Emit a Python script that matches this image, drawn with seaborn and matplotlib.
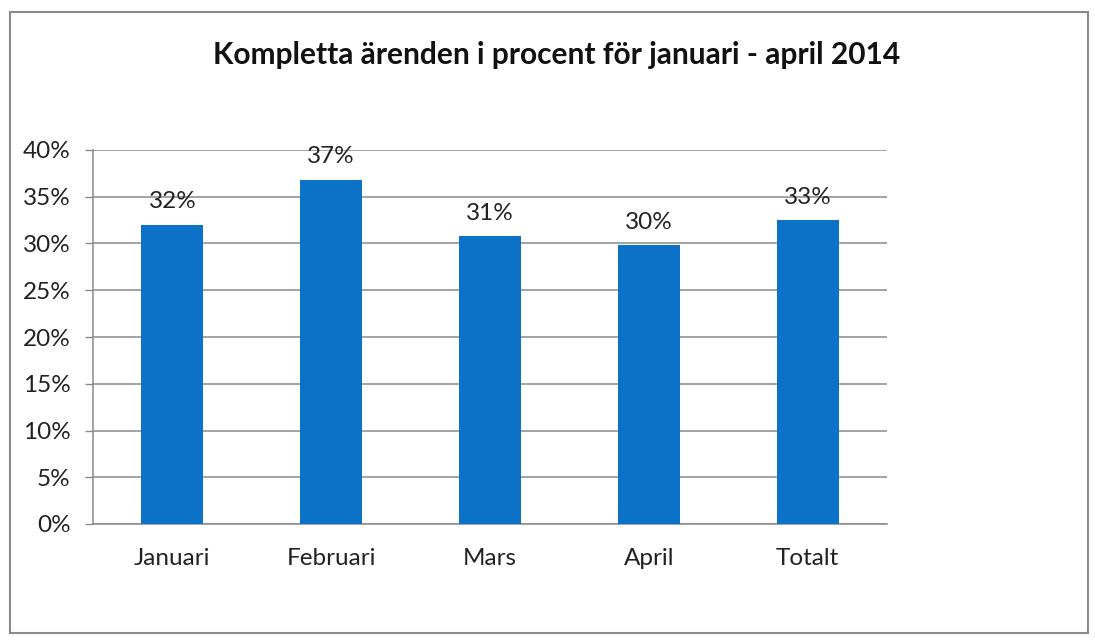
import pandas as pd
import seaborn as sns
import matplotlib.pyplot as plt
from matplotlib.patches import Rectangle
from matplotlib.ticker import PercentFormatter

# Values
categories = ["Januari", "Februari", "Mars", "April", "Totalt"]
values = [0.320, 0.368, 0.308, 0.298, 0.325]
labels = ["32%", "37%", "31%", "30%", "33%"]

df = pd.DataFrame({"manad": categories, "andel": values})

sns.set_theme(style="white")
plt.rcParams['font.family'] = ['Lato', 'DejaVu Sans']

fig = plt.figure(figsize=(10.95, 6.4), dpi=100)
ax = fig.add_axes([93 / 1095, 1 - 524 / 640, (887 - 93) / 1095, (524 - 150) / 640])

sns.barplot(data=df, x="manad", y="andel", color="#0B72C8", width=0.39,
            saturation=1, linewidth=0, ax=ax, zorder=3)

ax.set_ylim(0, 0.40)
ax.set_xlim(-0.5, len(categories) - 0.5)
ax.set_yticks([i * 0.05 for i in range(9)])
ax.yaxis.set_major_formatter(PercentFormatter(1.0, decimals=0))
ax.grid(axis="y", color="#8a8a8a", linewidth=1.1, zorder=0)
ax.set_axisbelow(True)

# Excel style: category ticks between the bars
ax.set_xticks([i - 0.5 for i in range(len(categories) + 1)], minor=True)
ax.tick_params(axis="x", which="major", length=0, pad=17, labelsize=17.5, colors="#222222")
ax.tick_params(axis="x", which="minor", length=6, width=1, color="#8a8a8a", direction="out")
ax.tick_params(axis="y", length=6, width=1, color="#8a8a8a", direction="out", pad=10,
               labelsize=17.5, colors="#222222", left=True)

for s in ["top", "right"]:
    ax.spines[s].set_visible(False)
for s in ["left", "bottom"]:
    ax.spines[s].set_color("#8a8a8a")
    ax.spines[s].set_linewidth(1.1)

ax.set_xlabel("")
ax.set_ylabel("")

for i, (v, lab) in enumerate(zip(values, labels)):
    ax.annotate(lab, (i, v), xytext=(0, 9), textcoords="offset points",
                ha="center", va="bottom", fontsize=17.5, color="#222222")

fig.text(557 / 1095, 1 - 55 / 640, "Kompletta ärenden i procent för januari - april 2014",
         ha="center", va="center", fontsize=21.5, fontweight="bold", color="#111111")

# outer chart border
fig.patches.append(Rectangle((10 / 1095, 1 - 633 / 640), (1088 - 10) / 1095, (633 - 12) / 640,
                             transform=fig.transFigure, fill=False,
                             edgecolor="#8a8a8a", linewidth=1.5))

fig.savefig("out.png", dpi=100)
